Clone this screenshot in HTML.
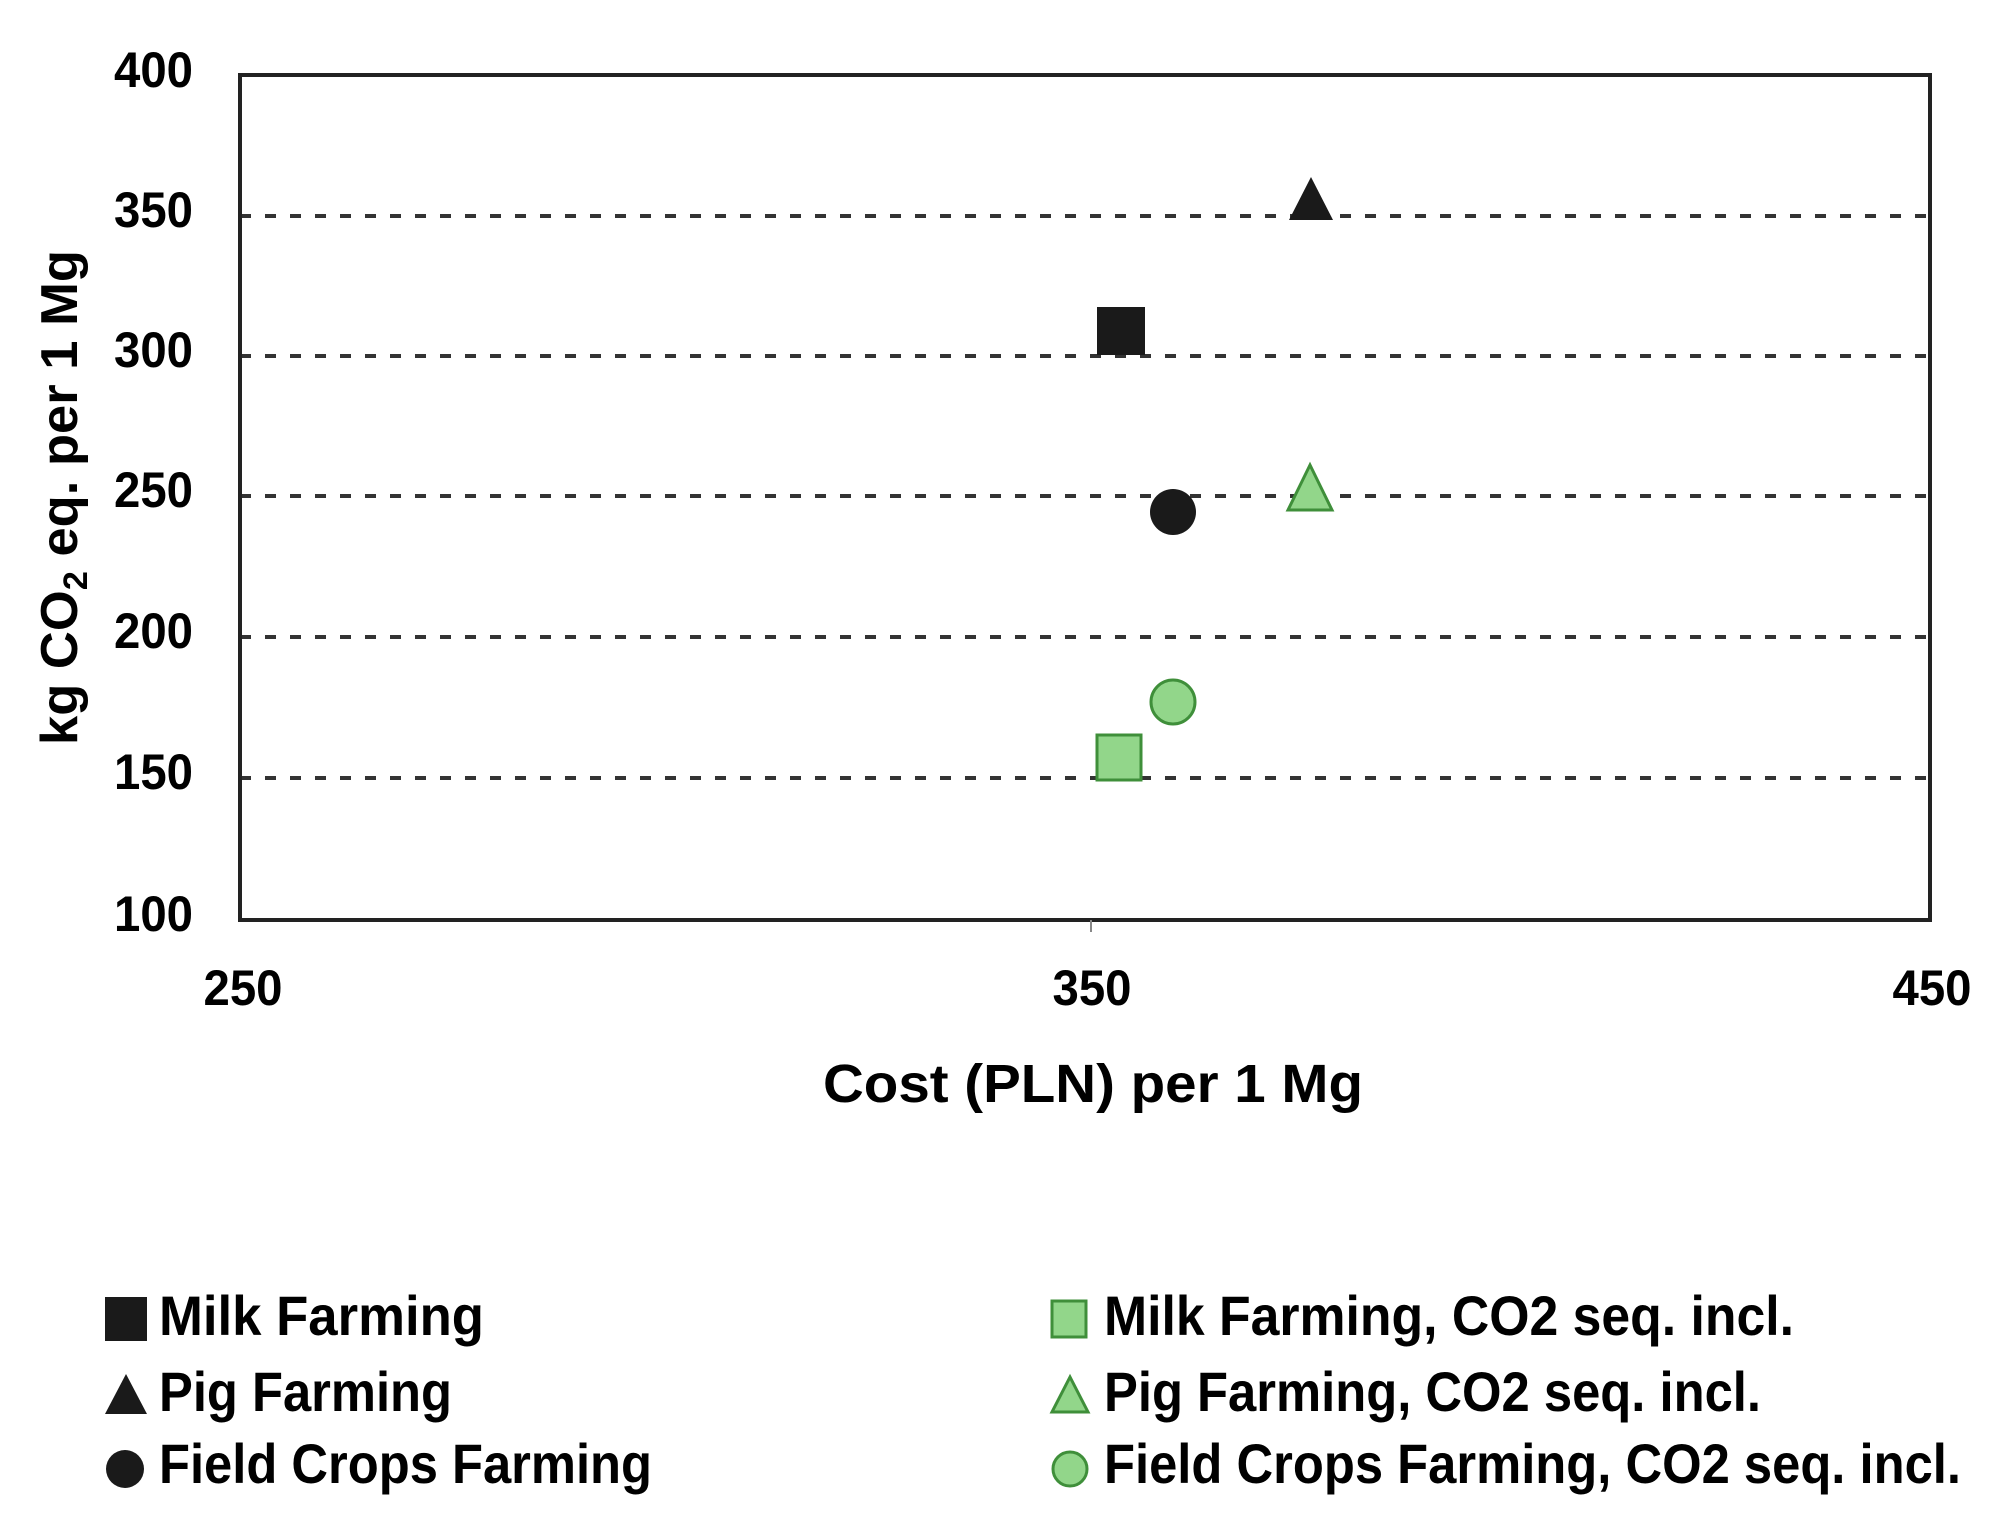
<!DOCTYPE html>
<html><head><meta charset="utf-8"><style>
html,body{margin:0;padding:0;background:#fff;}
svg{display:block;}
text{font-family:"Liberation Sans",sans-serif;font-weight:bold;fill:#000;}
</style></head><body>
<svg width="2013" height="1515" viewBox="0 0 2013 1515" xmlns="http://www.w3.org/2000/svg">
<g stroke="#333" stroke-width="4" stroke-dasharray="11,14">
<line x1="240" y1="216" x2="1930" y2="216"/>
<line x1="240" y1="356" x2="1930" y2="356"/>
<line x1="240" y1="496" x2="1930" y2="496"/>
<line x1="240" y1="637" x2="1930" y2="637"/>
<line x1="240" y1="778" x2="1930" y2="778"/>
</g>
<rect x="240" y="75" width="1690" height="845" fill="none" stroke="#222" stroke-width="4"/>
<line x1="1091" y1="920" x2="1091" y2="932" stroke="#888" stroke-width="2"/>
<g font-size="50" text-anchor="end">
<text x="193" y="87" textLength="79" lengthAdjust="spacingAndGlyphs">400</text>
<text x="193" y="227" textLength="79" lengthAdjust="spacingAndGlyphs">350</text>
<text x="193" y="367" textLength="79" lengthAdjust="spacingAndGlyphs">300</text>
<text x="193" y="507" textLength="79" lengthAdjust="spacingAndGlyphs">250</text>
<text x="193" y="648" textLength="79" lengthAdjust="spacingAndGlyphs">200</text>
<text x="193" y="789" textLength="79" lengthAdjust="spacingAndGlyphs">150</text>
<text x="193" y="931" textLength="79" lengthAdjust="spacingAndGlyphs">100</text>
</g>
<g font-size="50" text-anchor="middle">
<text x="243" y="1005" textLength="79" lengthAdjust="spacingAndGlyphs">250</text>
<text x="1092" y="1005" textLength="79" lengthAdjust="spacingAndGlyphs">350</text>
<text x="1932" y="1005" textLength="79" lengthAdjust="spacingAndGlyphs">450</text>
</g>
<text x="1093" y="1102" font-size="54" text-anchor="middle" textLength="540" lengthAdjust="spacingAndGlyphs">Cost (PLN) per 1 Mg</text>
<text transform="translate(77,745) rotate(-90)" font-size="52" textLength="495" lengthAdjust="spacingAndGlyphs">kg CO<tspan font-size="34" dy="10">2</tspan><tspan dy="-10"> eq. per 1 Mg</tspan></text>
<rect x="1097" y="307" width="48" height="48" fill="#1a1a1a"/>
<polygon points="1311,177 1289,220 1333,220" fill="#1a1a1a"/>
<circle cx="1173" cy="512" r="23" fill="#1a1a1a"/>
<polygon points="1310,465 1288,510 1332,510" fill="#92d68a" stroke="#3f8f3a" stroke-width="3"/>
<circle cx="1173" cy="702" r="22" fill="#92d68a" stroke="#3f8f3a" stroke-width="3"/>
<rect x="1097" y="735" width="44" height="45" fill="#92d68a" stroke="#3f8f3a" stroke-width="3"/>
<rect x="105" y="1297" width="42" height="44" fill="#1a1a1a"/>
<polygon points="126,1374 105,1414 147,1414" fill="#1a1a1a"/>
<circle cx="125" cy="1469" r="19" fill="#1a1a1a"/>
<rect x="1052" y="1301" width="34" height="36" fill="#92d68a" stroke="#3f8f3a" stroke-width="3"/>
<polygon points="1070,1377 1052,1412 1088,1412" fill="#92d68a" stroke="#3f8f3a" stroke-width="3"/>
<circle cx="1070" cy="1469" r="17" fill="#92d68a" stroke="#3f8f3a" stroke-width="3"/>
<g font-size="56">
<text x="159" y="1335" textLength="325" lengthAdjust="spacingAndGlyphs">Milk Farming</text>
<text x="159" y="1411" textLength="293" lengthAdjust="spacingAndGlyphs">Pig Farming</text>
<text x="159" y="1483" textLength="493" lengthAdjust="spacingAndGlyphs">Field Crops Farming</text>
<text x="1104" y="1335" textLength="690" lengthAdjust="spacingAndGlyphs">Milk Farming, CO2 seq. incl.</text>
<text x="1104" y="1411" textLength="657" lengthAdjust="spacingAndGlyphs">Pig Farming, CO2 seq. incl.</text>
<text x="1104" y="1483" textLength="857" lengthAdjust="spacingAndGlyphs">Field Crops Farming, CO2 seq. incl.</text>
</g>
</svg>
</body></html>
